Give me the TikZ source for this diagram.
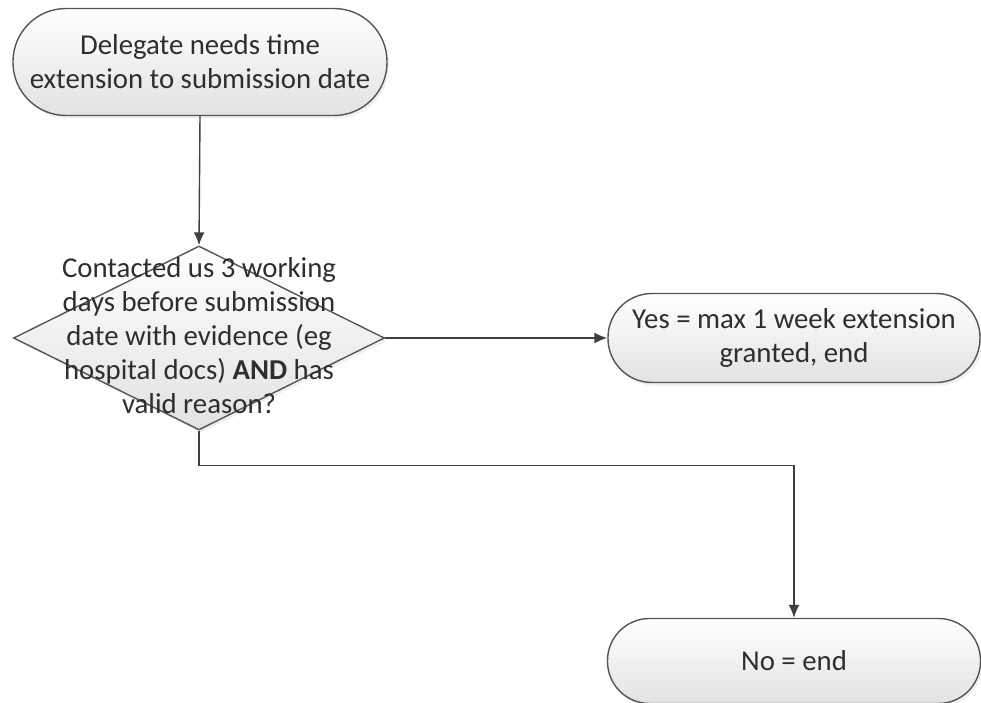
\documentclass[tikz,border=0pt]{standalone}
\usepackage{fontspec}
\setmainfont{Carlito}
\usetikzlibrary{shapes.geometric,arrows.meta,shadows}
\definecolor{edgec}{HTML}{555555}
\definecolor{linec}{HTML}{404040}
\definecolor{txtc}{HTML}{2E2E2E}
\definecolor{fillb}{HTML}{E2E2E2}
\tikzset{
  base/.style={draw=edgec, line width=1.4pt, top color=white, bottom color=fillb,
    drop shadow={opacity=0.12, shadow xshift=2pt, shadow yshift=-3pt},
    text=txtc, align=center, font=\fontsize{28.8pt}{34pt}\selectfont, inner sep=0pt},
  term/.style={base, rectangle},
  decision/.style={base, diamond, inner sep=0pt},
  txt/.style={text=txtc, align=center, font=\fontsize{28.8pt}{34pt}\selectfont, inner sep=0pt},
  arr/.style={draw=linec, line width=1.4pt, -{Latex[length=13pt,width=11pt]}},
}
\begin{document}
\begin{tikzpicture}[x=1pt,y=-1pt]
\useasboundingbox (0,0) rectangle (981,703);
\node[term, minimum width=374pt, minimum height=107pt, rounded corners=53pt] (start) at (200,62)
  {Delegate needs time\\extension to submission date};
\node[decision, minimum width=371pt, minimum height=184pt] (dec) at (199,338) {};
\node[txt] (dectext) at (199,336)
  {Contacted us 3 working\\days before submission\\date with evidence (eg\\hospital docs) \textbf{AND} has\\valid reason?};
\node[term, minimum width=372pt, minimum height=89pt, rounded corners=44pt] (yes) at (794,338)
  {Yes = max 1 week extension\\granted, end};
\node[term, minimum width=373pt, minimum height=85pt, rounded corners=42pt] (no) at (794,661)
  {No = end};
\draw[arr] (start.south) -- (dec.north);
\draw[arr] (dec.east) -- (yes.west);
\draw[arr] (dec.south) -- ++(0,35) -| (no.north);
\end{tikzpicture}
\end{document}
